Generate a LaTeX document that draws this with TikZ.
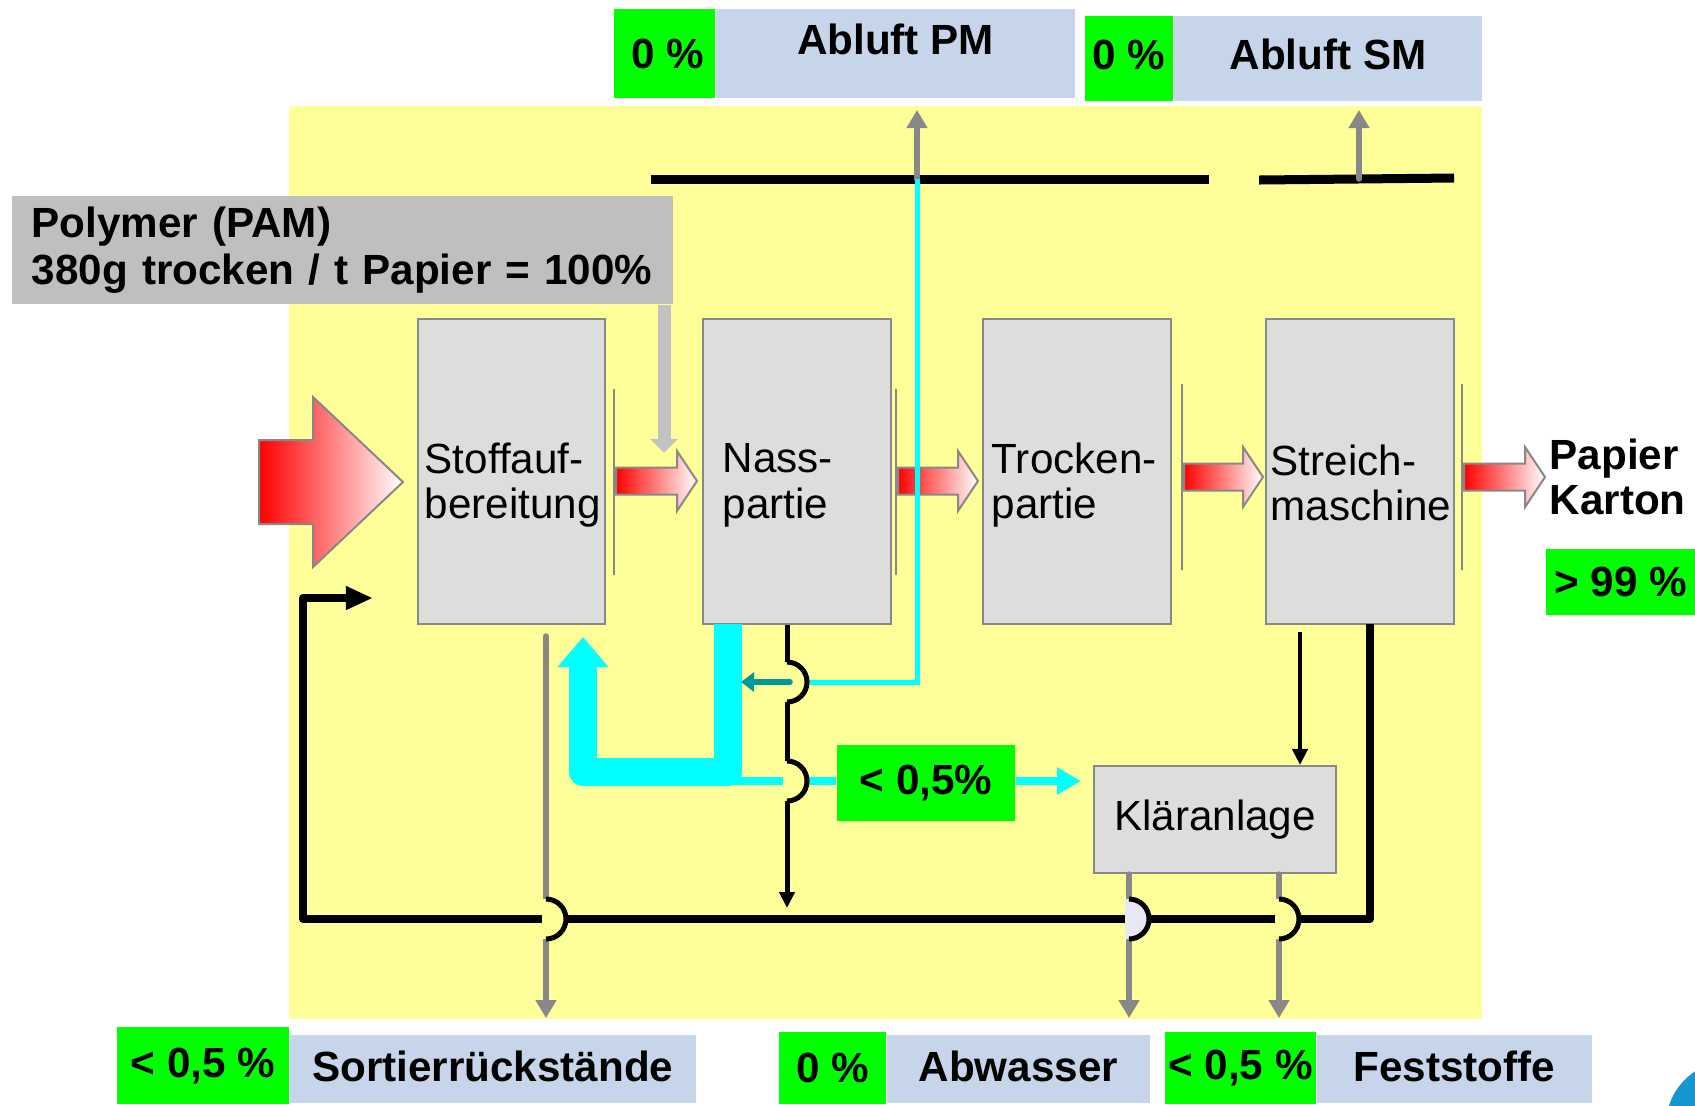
\documentclass[tikz,border=0pt]{standalone}
\usepackage{fontspec}
\setmainfont{Liberation Sans}
\usetikzlibrary{arrows.meta,positioning}
\definecolor{bgyellow}{RGB}{255,255,153}
\definecolor{lblgreen}{RGB}{0,255,0}
\definecolor{lblblue}{RGB}{198,213,234}
\definecolor{procgray}{RGB}{221,221,221}
\definecolor{framegray}{RGB}{136,136,136}
\definecolor{polygray}{RGB}{191,191,191}
\definecolor{watercyan}{RGB}{0,255,255}
\definecolor{waterteal}{RGB}{0,153,153}
\definecolor{jumplilac}{RGB}{232,232,245}
\definecolor{logoblue}{RGB}{20,150,210}

% Leitungssprung (Halbkreis nach rechts)
\newcommand{\linejump}[3][bgyellow]{%
  \fill[#1] (#2-4,#3-20) -- (#2,#3-20) arc[start angle=-90, end angle=90, radius=20] -- (#2-4,#3+20) -- cycle;
  \draw[jumparc] (#2,#3-20) arc[start angle=-90, end angle=90, radius=20];}

\begin{document}
\begin{tikzpicture}[x=0.01cm, y=-0.01cm,
    procbox/.style={rectangle, draw=framegray, line width=0.02cm, fill=procgray, minimum width=1.87cm, minimum height=3.05cm, inner sep=0pt},
    proctxt/.style={font=\fontsize{12}{13}\selectfont, align=left, inner sep=0pt, anchor=west},
    greenlbl/.style={fill=lblgreen, font=\fontsize{12}{14}\selectfont\bfseries, inner sep=0pt},
    bluelbl/.style={fill=lblblue, font=\fontsize{12}{14}\selectfont\bfseries, inner sep=0pt},
    baselbl/.style={bluelbl, inner ysep=0pt, text height=0.46cm, text depth=0.22cm, anchor=west},
    sepline/.style={draw=framegray, line width=0.025cm},
    flowarr/.style={left color=red, right color=white, draw=framegray, line width=0.02cm},
    grayarr/.style={draw=framegray, line width=0.055cm, line cap=round, -{Triangle[length=0.18cm, width=0.2cm]}},
    polyarr/.style={draw=polygray!95, line width=0.13cm, -{Triangle[length=0.14cm, width=0.27cm]}},
    hoodbar/.style={draw=black, line width=0.09cm},
    cyanthin/.style={draw=watercyan, line width=0.05cm},
    cyanthick/.style={draw=watercyan, line width=0.28cm, line join=round, -{Triangle[length=0.3cm, width=0.49cm]}},
    tealarr/.style={draw=waterteal, line width=0.055cm, line cap=round, -{Triangle[length=0.13cm, width=0.19cm]}},
    blackarr/.style={draw=black, line width=0.05cm, -{Triangle[length=0.16cm, width=0.15cm]}},
    loopline/.style={draw=black, line width=0.08cm, line join=round, -{Triangle[length=0.27cm, width=0.22cm]}},
    jumparc/.style={draw=black, line width=0.05cm}
]
    \useasboundingbox (0,0) rectangle (1695,1105);

    % Hintergrund
    \fill[bgyellow] (289,106) rectangle (1482,1019);

    % Abluft oben
    \node[greenlbl, minimum width=1.01cm, minimum height=0.89cm] (pmval) at (664.5,53.5) {\,0 \%};
    \node[bluelbl, minimum width=3.58cm, text height=0.45cm, text depth=0.43cm, inner ysep=0pt, right=0pt of pmval] (pmlbl) {Abluft PM};
    \node[greenlbl, minimum width=0.88cm, text height=0.53cm, text depth=0.32cm] (smval) at (1129,58.5) {0 \%};
    \node[bluelbl, minimum width=3.07cm, text height=0.53cm, text depth=0.32cm, right=0pt of smval] (smlbl) {Abluft SM};

    % Polymer
    \node[fill=polygray, font=\fontsize{12}{13.4}\selectfont\bfseries, align=left, text width=6.21cm,
          inner xsep=0.2cm, inner ysep=0pt, minimum height=1.08cm] (polymer) at (342.5,250)
          {Polymer (PAM)\\380g trocken / t Papier = 100\%};

    % Prozessstufen
    \node[procbox] (stoff) at (511.5,471.5) {};
    \node[procbox] (nass) at (797,471.5) {};
    \node[procbox] (trocken) at (1077,471.5) {};
    \node[procbox] (streich) at (1360,471.5) {};
    \node[proctxt] (stofftxt) at (424,485) {Stoffauf-\\bereitung};
    \node[proctxt] (nasstxt) at (722,485) {Nass-\\partie};
    \node[proctxt] (trockentxt) at (991,485) {Trocken-\\partie};
    \node[proctxt] (streichtxt) at (1270,483) {Streich-\\maschine};

    \node[procbox, minimum width=2.42cm, minimum height=1.07cm, font=\fontsize{12}{14}\selectfont] (klaer) at (1215,819.5) {Kl\"aranlage};

    \foreach \xs/\ya/\yb in {614/389/575, 896/389/575, 1182/384/570, 1462/384/570}
        \draw[sepline] (\xs,\ya) -- (\xs,\yb);

    % Stofffluss
    \shadedraw[flowarr] (259,440) -- (313,440) -- (313,397) -- (403,482) -- (313,567) -- (313,524) -- (259,524) -- cycle;
    \foreach \xa/\xb/\yy in {616/697/481, 898/978/481, 1184/1263/477, 1464/1545/477}
        \shadedraw[flowarr] (\xa,\yy-13.5) -- (\xb-20,\yy-13.5) -- (\xb-20,\yy-30) -- (\xb,\yy)
            -- (\xb-20,\yy+30) -- (\xb-20,\yy+13.5) -- (\xa,\yy+13.5) -- cycle;

    \node[font=\fontsize{12}{12.8}\selectfont\bfseries, align=left, inner sep=0pt, anchor=west] (papier) at (1549,477) {Papier\\Karton};
    \node[greenlbl, minimum width=1.49cm, minimum height=0.66cm] (papval) at (1620.5,582) {> 99 \%};

    % Polymerzugabe
    \coordinate (polyin) at (664,453);
    \draw[polyarr] (polymer.south -| polyin) -- (polyin);

    % Abluft
    \coordinate (pmhood) at (917,179);
    \coordinate (smhood) at (1359,179);
    \coordinate (pmout) at (917,110);
    \coordinate (smout) at (1359,110);
    \draw[hoodbar] (651,179) -- (1209,179);
    \draw[hoodbar] (1259,180) -- (1454,178);
    \draw[grayarr] (pmhood) -- (pmout);
    \draw[grayarr] (smhood) -- (smout);

    % Wasserkreislauf
    \coordinate (nassout) at (728,624);
    \coordinate (stoffin) at (583,637);
    \draw[cyanthin] (pmhood) -- (917,682) -- (787,682);
    \draw[cyanthick] (nassout) -- (728,772) -- (583,772) -- (stoffin);
    \node[greenlbl, minimum width=1.78cm, minimum height=0.76cm] (wasserval) at (926,783) {< 0,5\%};
    \coordinate (klaerin) at (1081,781);
    \draw[cyanthin, line width=0.08cm] (728,781) -- (wasserval.west |- 0,781);
    \draw[cyanthin, line width=0.08cm, -{Triangle[length=0.24cm, width=0.26cm]}] (wasserval.east |- 0,781) -- (klaerin);

    % Ausgaenge unten
    \coordinate (sortout) at (546,1018);
    \coordinate (abwout) at (1129,1018);
    \coordinate (festout) at (1279,1018);
    \draw[grayarr] (546,636) -- (sortout);
    \draw[grayarr] (klaer.south -| abwout) -- (abwout);
    \draw[grayarr] (klaer.south -| festout) -- (festout);

    % Ausschuss / Rueckfuehrung
    \coordinate (nassdown) at (787,908);
    \coordinate (streichout) at (1370,624);
    \coordinate (stoffback) at (373,598);
    \coordinate (klaertop) at (1300,632);
    \draw[blackarr] (nass.south -| nassdown) -- (nassdown);
    \draw[loopline] (streichout) -- (1370,919) -- (303,919) -- (303,598) -- (stoffback);
    \draw[blackarr, line width=0.04cm] (klaertop) -- (klaer.north -| klaertop);

    % Kreuzungen
    \linejump{787}{682}
    \linejump{787}{781}
    \linejump{546}{919}
    \linejump[jumplilac]{1129}{919}
    \linejump{1279}{919}
    \draw[tealarr] (790,682) -- (741,682);

    % Bilanz unten
    \node[greenlbl, minimum width=1.72cm, minimum height=0.77cm] (sortval) at (203,1065.5) {< 0,5 \%};
    \node[baselbl, minimum width=4.06cm] (sortlbl) at (289,1069) {Sortierr\"uckst\"ande};
    \node[greenlbl, minimum width=1.07cm, minimum height=0.72cm] (abwval) at (832.5,1068) {0 \%};
    \node[baselbl, minimum width=2.63cm] (abwlbl) at (886,1069) {Abwasser};
    \node[greenlbl, minimum width=1.51cm, minimum height=0.72cm] (festval) at (1240.5,1068) {< 0,5 \%};
    \node[baselbl, minimum width=2.75cm] (festlbl) at (1316,1069) {Feststoffe};

    % Logo (angeschnitten)
    \fill[logoblue] (1730,1125) circle[radius=64];
\end{tikzpicture}
\end{document}
